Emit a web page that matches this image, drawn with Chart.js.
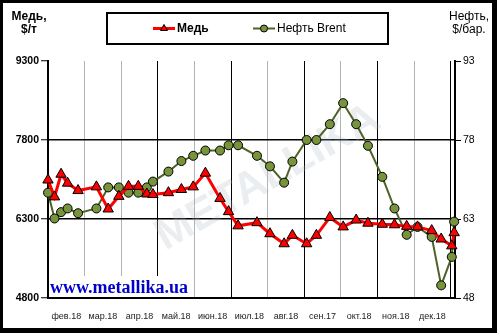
<!DOCTYPE html>
<html>
<head>
<meta charset="utf-8">
<script src="https://cdn.jsdelivr.net/npm/chart.js@4/dist/chart.umd.min.js"></script>
<style>
  body { margin: 0; background: #fff; }
  canvas { display: block; }
</style>
</head>
<body>
<canvas id="chart" width="500" height="336"></canvas>
<script>
// Chart data
const months = ['фев.18', 'мар.18', 'апр.18', 'май.18', 'июн.18', 'июл.18', 'авг.18', 'сен.17', 'окт.18', 'ноя.18', 'дек.18'];
const dates = [
    '01.02.18', '06.02.18', '11.02.18', '16.02.18', '24.02.18', '11.03.18', '21.03.18', '30.03.18',
    '07.04.18', '15.04.18', '22.04.18', '27.04.18', '10.05.18', '21.05.18', '31.05.18', '10.06.18',
    '22.06.18', '29.06.18', '07.07.18', '23.07.18', '03.08.18', '15.08.18', '22.08.18', '03.09.18',
    '11.09.18', '22.09.18', '03.10.18', '14.10.18', '24.10.18', '05.11.18', '15.11.18', '25.11.18',
    '04.12.18', '16.12.18', '24.12.18', '02.01.19', '04.01.19'
];
const copper = [
    7040, 6720, 7150, 6980, 6840, 6910, 6490, 6730,
    6920, 6920, 6775, 6765, 6800, 6860, 6910, 7170,
    6690, 6440, 6170, 6230, 6020, 5830, 5990, 5830,
    5990, 6330, 6150, 6280, 6220, 6200, 6190, 6160,
    6150, 6080, 5920, 5790, 6040
];
const brent = [
    68.0, 63.1, 64.3, 65.0, 64.1, 65.0, 69.0, 69.0,
    68.0, 68.0, 69.0, 70.1, 72.0, 74.0, 75.0, 76.0,
    76.0, 77.0, 77.0, 75.0, 73.0, 69.9, 73.9, 78.0,
    78.0, 81.0, 85.0, 81.0, 76.9, 71.0, 65.0, 60.0,
    61.5, 59.6, 50.4, 55.8, 62.5
];
const copperTicks = [4800, 6300, 7800, 9300];
const brentTicks = [48, 63, 78, 93];

// Date -> position in months from the start of Feb 2018
function monthPos(str) {
    const [d, m, y] = str.split('.').map(Number);
    const days = new Date(2000 + y, m, 0).getDate();
    return (y - 18) * 12 + (m - 2) + (d - 1) / days;
}

const X_MAX = 11.12;

// Decorations: background, watermark, legend, unit titles, frame
const decor = {
    id: 'decor',
    beforeDraw(chart) {
        const ctx = chart.ctx;
        ctx.save();
        ctx.fillStyle = '#fff';
        ctx.fillRect(0, 0, chart.width, chart.height);
        ctx.restore();
    },
    beforeDatasetsDraw(chart) {
        const ctx = chart.ctx;
        const a = chart.chartArea;
        ctx.save();
        ctx.beginPath();
        ctx.rect(a.left, a.top, a.right - a.left, a.bottom - a.top);
        ctx.clip();
        ctx.translate(268, 178);
        ctx.rotate(-0.52);
        ctx.fillStyle = 'rgba(175, 188, 200, 0.25)';
        ctx.font = 'bold 44px "Liberation Sans", Arial, sans-serif';
        ctx.textAlign = 'center';
        ctx.textBaseline = 'middle';
        ctx.fillText('METALLIKA', 0, 0);
        ctx.restore();
    },
    afterDraw(chart) {
        const ctx = chart.ctx;
        const a = chart.chartArea;
        ctx.save();

        // site label with white box
        ctx.fillStyle = '#fff';
        ctx.fillRect(a.left + 1, 276, 140, a.bottom - 277);
        ctx.fillStyle = '#0000cc';
        ctx.font = 'bold 18px "Liberation Serif", "Times New Roman", serif';
        ctx.textAlign = 'left';
        ctx.textBaseline = 'alphabetic';
        ctx.fillText('www.metallika.ua', 50, 293);

        // unit titles
        ctx.fillStyle = '#000';
        ctx.textAlign = 'center';
        ctx.textBaseline = 'middle';
        ctx.font = 'bold 12px "Liberation Sans", Arial, sans-serif';
        ctx.fillText('Медь,', 29, 16.5);
        ctx.fillText('$/т', 29, 29.5);
        ctx.font = '12px "Liberation Sans", Arial, sans-serif';
        ctx.fillText('Нефть,', 469, 16.5);
        ctx.fillText('$/бар.', 469, 29.5);

        // legend box
        ctx.lineWidth = 2;
        ctx.strokeStyle = '#000';
        ctx.strokeRect(107, 13, 281, 31);
        const ds = chart.data.datasets;
        const items = [
            { x: 153, font: 'bold 12px "Liberation Sans", Arial, sans-serif', ds: ds[0] },
            { x: 253, font: '12px "Liberation Sans", Arial, sans-serif', ds: ds[1] }
        ];
        items.forEach(it => {
            const y = 28.5;
            ctx.strokeStyle = it.ds.borderColor;
            ctx.lineWidth = it.ds.borderWidth;
            ctx.beginPath();
            ctx.moveTo(it.x, y);
            ctx.lineTo(it.x + 22, y);
            ctx.stroke();
            ctx.fillStyle = it.ds.pointBackgroundColor;
            ctx.strokeStyle = it.ds.pointBorderColor;
            ctx.lineWidth = 1;
            Chart.helpers.drawPoint(ctx, {
                pointStyle: it.ds.pointStyle,
                radius: it.ds.pointStyle === 'triangle' ? 4 : 3.5,
                rotation: 0,
                borderWidth: 1
            }, it.x + 11, y);
            ctx.fillStyle = '#000';
            ctx.font = it.font;
            ctx.textAlign = 'left';
            ctx.fillText(it.ds.label, it.x + 24, y + 0.5);
        });

        // outer frame
        ctx.fillStyle = '#000';
        ctx.fillRect(0, 0, 497, 3);
        ctx.fillRect(0, 0, 3, 333);
        ctx.fillRect(492, 0, 5, 333);
        ctx.fillRect(0, 328, 497, 5);
        ctx.restore();
    }
};

const ctx = document.getElementById('chart').getContext('2d');

new Chart(ctx, {
    type: 'line',
    data: {
        datasets: [{
            label: 'Медь',
            data: dates.map((d, i) => ({ x: monthPos(d), y: copper[i] })),
            xAxisID: 'x',
            yAxisID: 'y',
            borderColor: '#ff0000',
            borderWidth: 3,
            pointStyle: 'triangle',
            pointRadius: 6,
            pointBackgroundColor: '#ff0000',
            pointBorderColor: '#000',
            pointBorderWidth: 1,
            tension: 0,
            clip: false
        }, {
            label: 'Нефть Brent',
            data: dates.map((d, i) => ({ x: monthPos(d), y: brent[i] })),
            xAxisID: 'x',
            yAxisID: 'y1',
            borderColor: '#4f6228',
            borderWidth: 2,
            pointStyle: 'circle',
            pointRadius: 4.5,
            pointBackgroundColor: '#77933c',
            pointBorderColor: '#000',
            pointBorderWidth: 1,
            tension: 0,
            clip: false
        }]
    },
    options: {
        responsive: false,
        animation: false,
        devicePixelRatio: 1,
        layout: { padding: { top: 61, left: 0, right: 0, bottom: 0 } },
        plugins: {
            legend: { display: false },
            tooltip: { enabled: false }
        },
        scales: {
            x: {
                type: 'linear',
                position: 'bottom',
                min: 0,
                max: X_MAX,
                afterBuildTicks: scale => {
                    scale.ticks = months.map((m, i) => ({ value: i + 1 }));
                },
                ticks: { display: false },
                grid: {
                    drawTicks: false,
                    lineWidth: 1,
                    color: c => ([3, 5, 7, 9, 11].includes(c.tick && c.tick.value) ? '#000' : '#b4b4b4')
                },
                border: { color: '#000', width: 2 },
                afterFit: scale => { scale.height = 0; }
            },
            xl: {
                type: 'linear',
                position: 'bottom',
                min: 0,
                max: X_MAX,
                afterBuildTicks: scale => {
                    scale.ticks = months.map((m, i) => ({ value: i + 0.5 }));
                },
                ticks: {
                    autoSkip: false,
                    maxRotation: 0,
                    padding: 5,
                    color: '#222',
                    font: { family: '"Liberation Sans", Arial, sans-serif', size: 9 },
                    callback: (v, i) => months[i]
                },
                grid: { display: false },
                border: { display: false },
                afterFit: scale => { scale.height = 38; }
            },
            y: {
                position: 'left',
                min: copperTicks[0],
                max: copperTicks[copperTicks.length - 1],
                afterBuildTicks: scale => {
                    scale.ticks = copperTicks.map(v => ({ value: v }));
                },
                ticks: {
                    padding: 2,
                    color: '#000',
                    font: { family: '"Liberation Sans", Arial, sans-serif', size: 10.5, weight: 'bold' },
                    callback: v => String(v)
                },
                grid: {
                    lineWidth: 1.5,
                    tickLength: 7,
                    tickColor: '#000',
                    tickWidth: 1,
                    color: c => ((c.tick && (c.tick.value === 6300 || c.tick.value === 7800)) ? '#000' : 'rgba(0,0,0,0)')
                },
                border: { color: '#000', width: 2 },
                afterFit: scale => { scale.width = 48; }
            },
            y1: {
                position: 'right',
                min: brentTicks[0],
                max: brentTicks[brentTicks.length - 1],
                afterBuildTicks: scale => {
                    scale.ticks = brentTicks.map(v => ({ value: v }));
                },
                ticks: {
                    padding: 2,
                    color: '#000',
                    font: { family: '"Liberation Sans", Arial, sans-serif', size: 10.5 },
                    callback: v => String(v)
                },
                grid: {
                    drawOnChartArea: false,
                    tickLength: 6,
                    tickColor: '#000',
                    tickWidth: 1
                },
                border: { color: '#000', width: 2 },
                afterFit: scale => { scale.width = 45; }
            }
        }
    },
    plugins: [decor]
});
</script>
</body>
</html>
